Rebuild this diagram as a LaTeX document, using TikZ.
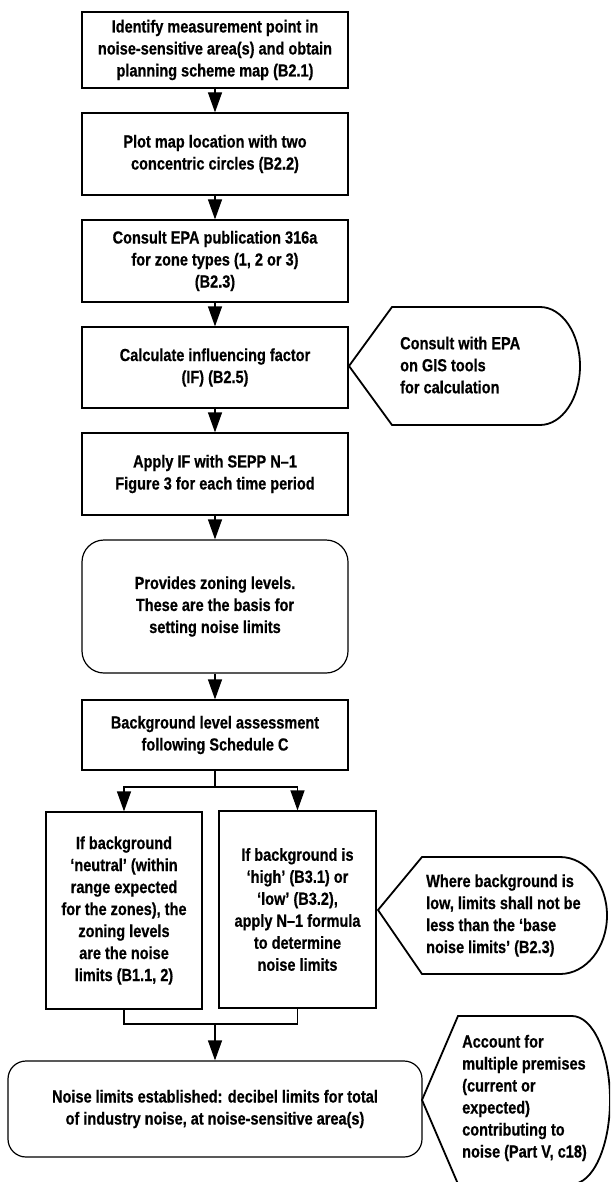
\documentclass[tikz,border=0pt]{standalone}
\usepackage{fontspec}
\newfontfamily\lab{Liberation Sans Bold}[FakeStretch=0.83, FakeBold=0.6]
\usetikzlibrary{arrows.meta}
\begin{document}
\begin{tikzpicture}[x=1pt,y=-1pt,
  every node/.style={font=\lab\fontsize{17.5}{22}\selectfont, inner sep=0pt},
  box/.style={draw, line width=1.2pt, align=center, minimum width=266pt},
  arr/.style={line width=1.2pt, -{Triangle[length=20pt,width=14pt]}},
  link/.style={line width=1.2pt},
  callout/.style={draw, line width=1.8pt, line join=miter},
  note/.style={anchor=west, align=left}]
\useasboundingbox (0,0) rectangle (610,1182);
\fill[white] (0,0) rectangle (610,1182);
\clip (0,0) rectangle (610,1182);

\node[box, minimum height=76pt] (b1) at (215,50) {Identify measurement point in\\noise-sensitive area(s) and obtain\\planning scheme map (B2.1)};
\node[box, minimum height=82pt] (b2) at (215,154) {Plot map location with two\\concentric circles (B2.2)};
\node[box, minimum height=82pt] (b3) at (215,261) {Consult EPA publication 316a\\for zone types (1, 2 or 3)\\(B2.3)};
\node[box, minimum height=81pt] (b4) at (215,367.5) {Calculate influencing factor\\(IF) (B2.5)};
\node[box, minimum height=82pt] (b5) at (215,474) {Apply IF with SEPP N–1\\Figure 3 for each time period};
\node[box, rounded corners=22pt, minimum height=133pt] (b6) at (215,606.5) {Provides zoning levels.\\These are the basis for\\setting noise limits};
\node[box, minimum height=70pt] (b7) at (215,735) {Background level assessment\\following Schedule C};
\node[box, minimum width=156pt, minimum height=197pt] (L) at (124,910.5) {If background\\‘neutral’ (within\\range expected\\for the zones), the\\zoning levels\\are the noise\\limits (B1.1, 2)};
\node[box, minimum width=157pt, minimum height=197pt] (R) at (297.5,909.5) {If background is\\‘high’ (B3.1) or\\‘low’ (B3.2),\\apply N–1 formula\\to determine\\noise limits};
\node[box, rounded corners=18pt, minimum width=414pt, minimum height=96pt] (F) at (215,1109) {Noise limits established: decibel limits for total\\of industry noise, at noise-sensitive area(s)};

\draw[arr] (b1) -- (b2);
\draw[arr] (b2) -- (b3);
\draw[arr] (b3) -- (b4);
\draw[arr] (b4) -- (b5);
\draw[arr] (b5) -- (b6);
\draw[arr] (b6) -- (b7);

\coordinate (s) at (215,787);
\draw[link] (b7.south) -- (s);
\draw[arr] (s) -| (L.north);
\draw[arr] (s) -| (R.north);

\coordinate (m) at (215,1024);
\draw[link] (L.south) |- (m);
\draw[link] (R.south) |- (m);
\draw[arr] (m) -- (F.north);

\draw[callout] (349,366) -- (392,307) -- (540,307)
  arc[start angle=90, end angle=-90, x radius=40pt, y radius=59pt] -- (392,425) -- cycle;
\draw[callout] (378,910) -- (422,857) -- (560,857)
  arc[start angle=90, end angle=-90, x radius=47pt, y radius=58.5pt] -- (422,974) -- cycle;
\draw[callout] (422,1100) -- (458,1016) -- (572,1016)
  arc[start angle=90, end angle=-90, x radius=38pt, y radius=84pt] -- (458,1184) -- cycle;

\node[note] (c1) at (400,365) {Consult with EPA\\on GIS tools\\for calculation};
\node[note] (c2) at (426,915.5) {Where background is\\low, limits shall not be\\less than the ‘base\\noise limits’ (B2.3)};
\node[note] (c3) at (462,1098) {Account for\\multiple premises\\(current or\\expected)\\contributing to\\noise (Part V, c18)};
\end{tikzpicture}
\end{document}
